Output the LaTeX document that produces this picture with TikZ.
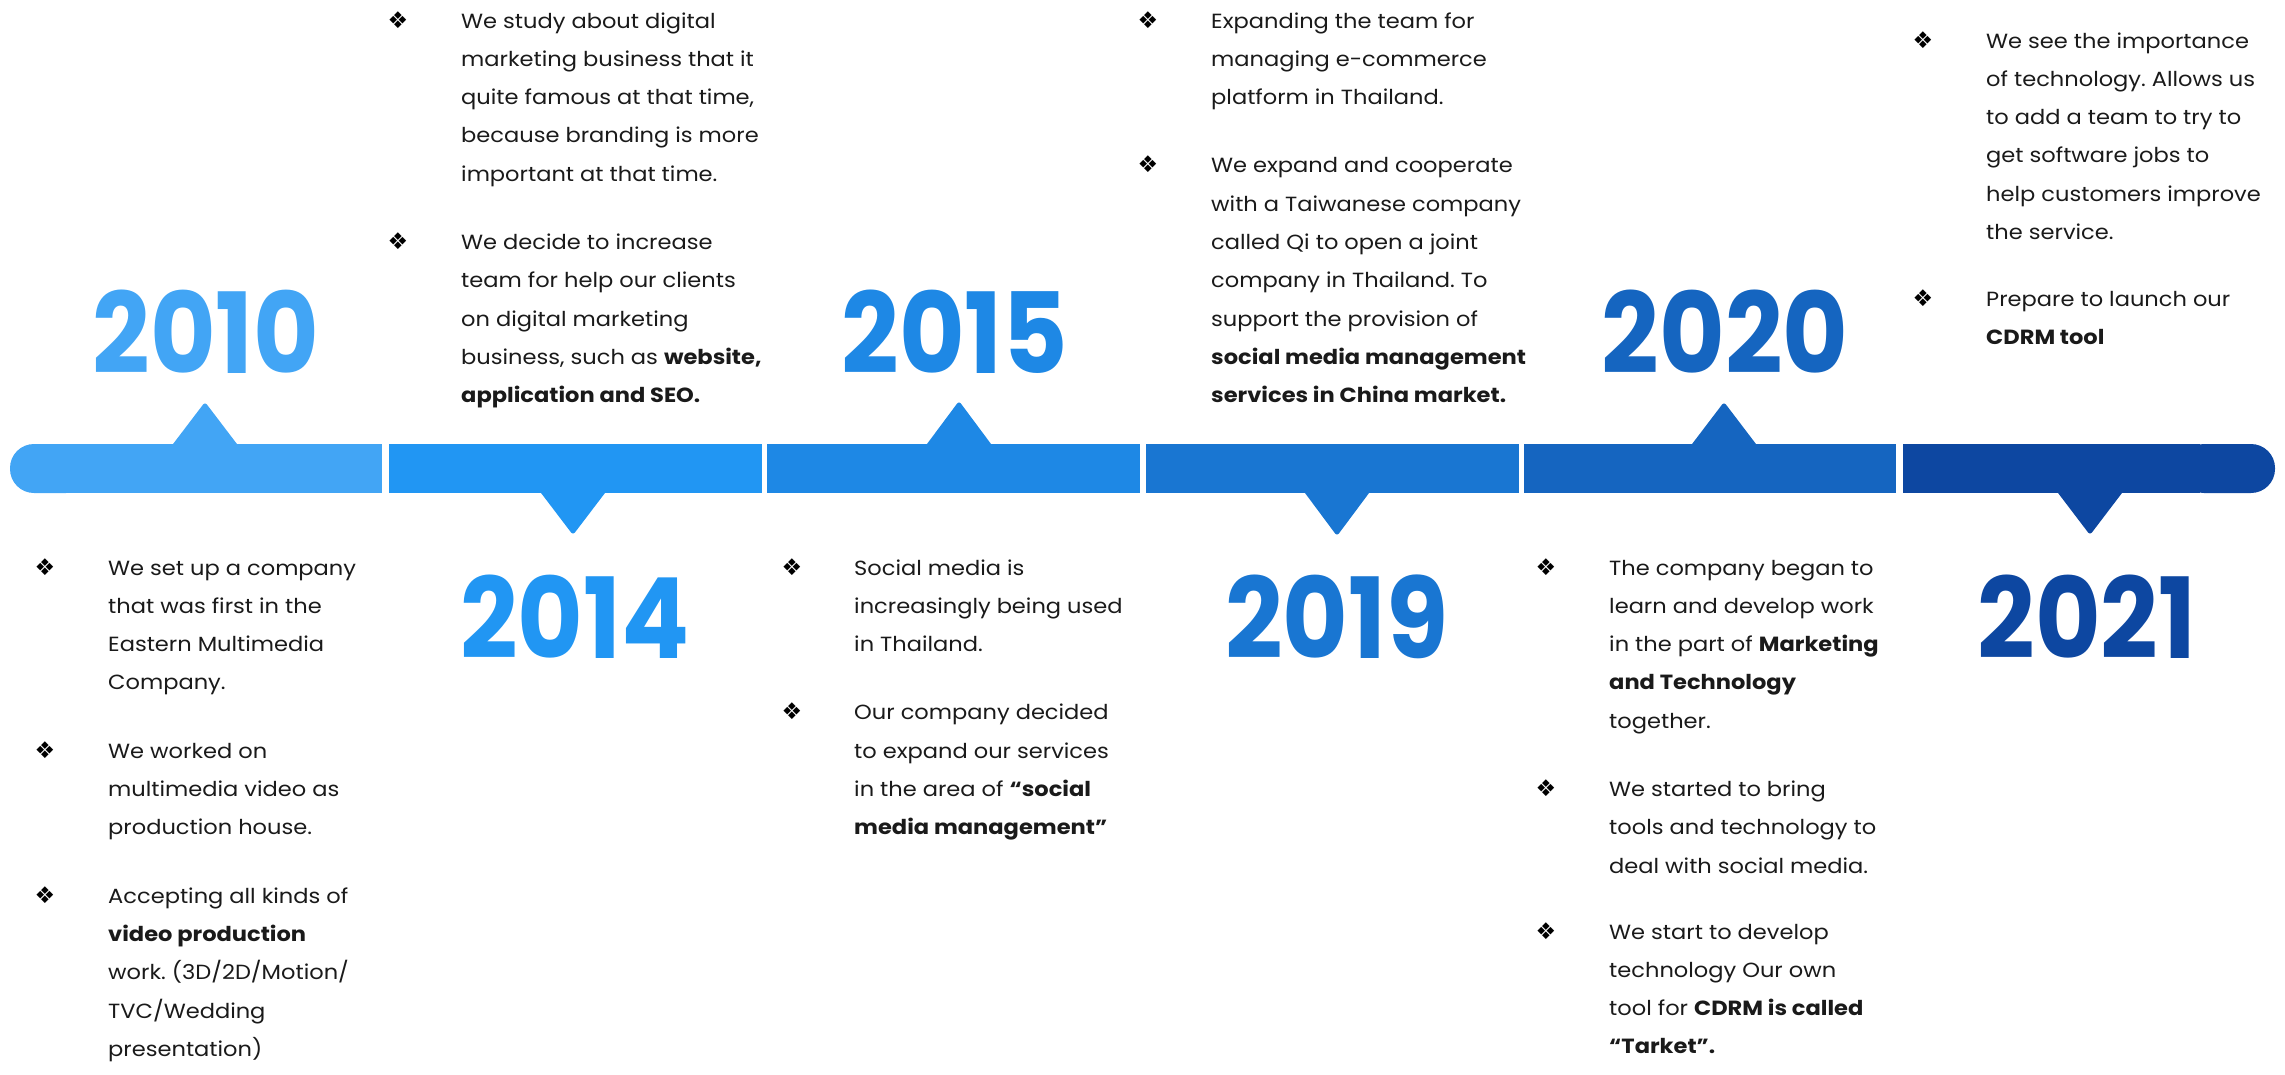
\documentclass[tikz,border=0pt]{standalone}
\usepackage{fontspec}
\setmainfont[FakeStretch=1.1]{Poppins}
\newfontfamily\yearfont[FakeStretch=0.9]{Poppins}
\newfontfamily\symfont{DejaVu Sans}
\frenchspacing

% segment colours, light to dark
\definecolor{c1}{HTML}{42A5F5}
\definecolor{c2}{HTML}{2196F3}
\definecolor{c3}{HTML}{1E88E5}
\definecolor{c4}{HTML}{1976D2}
\definecolor{c5}{HTML}{1565C0}
\definecolor{c6}{HTML}{0D47A1}
\definecolor{ink}{HTML}{1A1A1A}

% a paragraph whose baseline is the baseline of its first line
\newcommand\para[1]{\vtop{\baselineskip=38.3pt\lineskiplimit=-\maxdimen
  \halign{##\hfil\cr#1\crcr}}}
\newcommand\bulletmark{\symfont ❖}

\tikzset{
  year/.style={anchor=base, inner sep=0pt, font=\yearfont\fontsize{112}{112}\selectfont\bfseries},
  body/.style={anchor=base west, inner sep=0pt, text=ink, font=\fontsize{20.5}{38.3}\selectfont},
  bul/.style={anchor=base, inner sep=0pt, text=black, font=\fontsize{23}{23}\selectfont},
}

\begin{document}
\begin{tikzpicture}[x=1pt,y=-1pt]
\useasboundingbox (0,0) rectangle (2285,1074);

% ---- timeline bar ----
\fill[c1, rounded corners=24pt] (10,444) rectangle (90,493);
\fill[c1] (40,444) rectangle (382,493);
\fill[c2] (389,444) rectangle (762,493);
\fill[c3] (767,444) rectangle (1140,493);
\fill[c4] (1146,444) rectangle (1519,493);
\fill[c5] (1524,444) rectangle (1896,493);
\fill[c6] (1903,444) rectangle (2200,493);
\fill[c6, rounded corners=24pt] (2180,444) rectangle (2275,493);

% ---- pointers ----
\fill[c1, rounded corners=3pt] (170,448) -- (205,402) -- (240,448) -- cycle;
\fill[c2, rounded corners=3pt] (538,489) -- (573,535) -- (608,489) -- cycle;
\fill[c3, rounded corners=3pt] (924,448) -- (959,401) -- (994,448) -- cycle;
\fill[c4, rounded corners=3pt] (1302,489) -- (1337,536) -- (1372,489) -- cycle;
\fill[c5, rounded corners=3pt] (1689,448) -- (1724,402) -- (1759,448) -- cycle;
\fill[c6, rounded corners=3pt] (2055,489) -- (2090,535) -- (2125,489) -- cycle;

% ---- years ----
\node[year, text=c1] (y2010) at (206,373) {2010};
\node[year, text=c2] (y2014) at (575,658) {2014};
\node[year, text=c3] (y2015) at (955,373) {2015};
\node[year, text=c4] (y2019) at (1337,658) {2019};
\node[year, text=c5] (y2020) at (1725,373) {2020};
\node[year, text=c6] (y2021) at (2087,658) {2021};

% ---- 2010 ----
\node[bul] (b10a) at (45,575) {\bulletmark};
\node[body] (p10a) at (108,575) {\para{We set up a company\cr that was first in the\cr Eastern Multimedia\cr Company.}};
\node[bul] (b10b) at (45,758.2) {\bulletmark};
\node[body] (p10b) at (108,758.2) {\para{We worked on\cr multimedia video as\cr production house.}};
\node[bul] (b10c) at (45,903.1) {\bulletmark};
\node[body] (p10c) at (108,903.1) {\para{Accepting all kinds of\cr \textbf{video production}\cr work. (3D/2D/Motion/\cr TVC/Wedding\cr presentation)}};

% ---- 2014 ----
\node[bul] (b14a) at (398,28) {\bulletmark};
\node[body] (p14a) at (461,28) {\para{We study about digital\cr marketing business that it\cr quite famous at that time,\cr because branding is more\cr important at that time.}};
\node[bul] (b14b) at (398,249.5) {\bulletmark};
\node[body] (p14b) at (461,249.5) {\para{We decide to increase\cr team for help our clients\cr on digital marketing\cr business, such as \textbf{website,}\cr \textbf{application and SEO.}}};

% ---- 2015 ----
\node[bul] (b15a) at (792,575) {\bulletmark};
\node[body] (p15a) at (854,575) {\para{Social media is\cr increasingly being used\cr in Thailand.}};
\node[bul] (b15b) at (792,719.9) {\bulletmark};
\node[body] (p15b) at (854,719.9) {\para{Our company decided\cr to expand our services\cr in the area of \textbf{“social}\cr \textbf{media management”}}};

% ---- 2019 ----
\node[bul] (b19a) at (1148,28) {\bulletmark};
\node[body] (p19a) at (1211,28) {\para{Expanding the team for\cr managing e-commerce\cr platform in Thailand.}};
\node[bul] (b19b) at (1148,172.9) {\bulletmark};
\node[body] (p19b) at (1211,172.9) {\para{We expand and cooperate\cr with a Taiwanese company\cr called Qi to open a joint\cr company in Thailand. To\cr support the provision of\cr \textbf{social media management}\cr \textbf{services in China market.}}};

% ---- 2020 ----
\node[bul] (b20a) at (1546,575) {\bulletmark};
\node[body] (p20a) at (1609,575) {\para{The company began to\cr learn and develop work\cr in the part of \textbf{Marketing}\cr \textbf{and Technology}\cr together.}};
\node[bul] (b20b) at (1546,796.5) {\bulletmark};
\node[body] (p20b) at (1609,796.5) {\para{We started to bring\cr tools and technology to\cr deal with social media.}};
\node[bul] (b20c) at (1546,939) {\bulletmark};
\node[body] (p20c) at (1609,939) {\para{We start to develop\cr technology Our own\cr tool for \textbf{CDRM is called}\cr \textbf{“Tarket”.}}};

% ---- 2021 ----
\node[bul] (b21a) at (1923,48) {\bulletmark};
\node[body] (p21a) at (1986,48) {\para{We see the importance\cr of technology. Allows us\cr to add a team to try to\cr get software jobs to\cr help customers improve\cr the service.}};
\node[bul] (b21b) at (1923,306) {\bulletmark};
\node[body] (p21b) at (1986,306) {\para{Prepare to launch our\cr \textbf{CDRM tool}}};
\end{tikzpicture}
\end{document}
